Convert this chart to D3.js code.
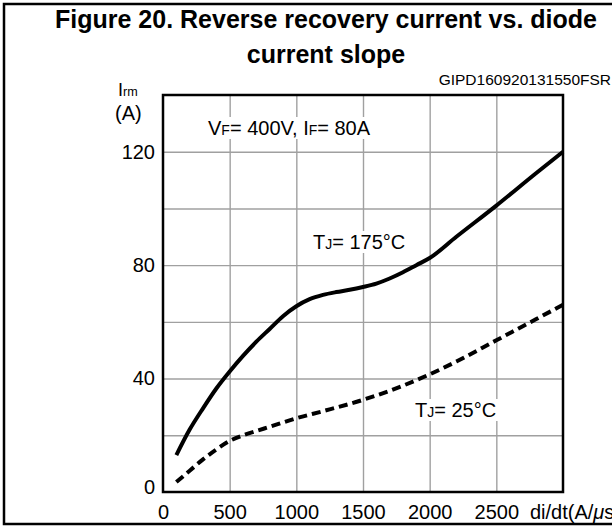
<!DOCTYPE html>
<html>
<head>
<meta charset="utf-8">
<script src="https://cdn.jsdelivr.net/npm/d3@7"></script>
<style>
  body { margin: 0; background: #fff; }
  svg text { font-family: "Liberation Sans", Arial, Helvetica, sans-serif; fill: #000; }
</style>
</head>
<body>
<div id="chart"></div>
<script>
/* data */
var xTicks = [0, 500, 1000, 1500, 2000, 2500],
    yTicks = [0, 40, 80, 120],
    xGrid = [500, 1000, 1500, 2000, 2500],
    yGrid = [20, 40, 60, 80, 100, 120];

var didtHot = [100, 200, 300, 400, 500, 600, 700, 800, 900, 1000, 1100, 1200, 1300, 1400, 1500, 1600, 1700, 1800, 1900, 2000, 2200, 2500, 2800, 3000],
    irmHot  = [13, 22, 29.5, 36.5, 42.5, 48, 53, 57.5, 62, 65.5, 68, 69.5, 70.5, 71.3, 72.3, 73.5, 75.3, 77.5, 80, 82.5, 90, 101, 112.5, 120];

var didtCold = [100, 200, 300, 400, 500, 600, 700, 800, 1000, 1200, 1500, 1800, 2000, 2200, 2500, 2800, 3000],
    irmCold  = [3.5, 7.5, 11.5, 15, 18, 20, 21.5, 23, 26, 28.5, 32.5, 37.5, 41.5, 46, 53.5, 61, 66];

var width = 612,
    height = 529,
    margin = {left: 163, top: 95, right: 49, bottom: 37},
    w = width - margin.left - margin.right,
    h = height - margin.top - margin.bottom;

var svg = d3.select("#chart").append("svg")
    .attr("width", width)
    .attr("height", height);

/* outer frame of the figure */
svg.append("rect")
    .attr("x", 4).attr("y", 4)
    .attr("width", 700).attr("height", 520)
    .attr("fill", "none")
    .attr("stroke", "#000")
    .attr("stroke-width", 2.5);

/* title */
var title = svg.append("g").attr("font-weight", "bold").attr("font-size", 25).attr("text-anchor", "middle");
title.append("text").attr("x", 326).attr("y", 28).text("Figure 20. Reverse recovery current vs. diode");
title.append("text").attr("x", 326).attr("y", 63).text("current slope");

svg.append("text")
    .attr("x", 611).attr("y", 85)
    .attr("font-size", 15.5)
    .attr("text-anchor", "end")
    .text("GIPD160920131550FSR");

var g = svg.append("g")
    .attr("transform", "translate(" + margin.left + "," + margin.top + ")");

var x = d3.scaleLinear().domain([0, 3000]).range([0, w]),
    y = d3.scaleLinear().domain([0, 140]).range([h, 0]);

/* grid */
g.append("g")
    .attr("class", "grid")
    .attr("transform", "translate(0," + h + ")")
    .call(d3.axisBottom(x).tickValues(xGrid).tickSize(-h).tickFormat(""));

g.append("g")
    .attr("class", "grid")
    .call(d3.axisLeft(y).tickValues(yGrid).tickSize(-w).tickFormat(""));

g.selectAll(".grid .domain").remove();
g.selectAll(".grid line").attr("stroke", "#a0a0a0").attr("stroke-width", 1.4);

/* tick labels */
var xAxis = g.append("g")
    .attr("transform", "translate(0," + h + ")")
    .call(d3.axisBottom(x).tickValues(xTicks).tickSize(0).tickPadding(13).tickFormat(d3.format("d")));

var yAxis = g.append("g")
    .call(d3.axisLeft(y).tickValues(yTicks).tickSize(0).tickPadding(8));

xAxis.select(".domain").remove();
yAxis.select(".domain").remove();
g.selectAll(".tick text")
    .attr("font-family", "'Liberation Sans', Arial, sans-serif")
    .attr("font-size", 20)
    .attr("fill", "#000");
yAxis.selectAll(".tick text").filter(function(d) { return d === 0; }).attr("dy", "0.05em");

/* annotations with white boxes behind them */
var drawLabel = function(parent, px, py, parts, size) {
    var lab = parent.append("g");
    var t = lab.append("text")
        .attr("x", px)
        .attr("y", py)
        .attr("font-size", size);
    parts.forEach(function(p) {
        t.append("tspan")
            .attr("font-size", p[1] ? size * 0.7 : size)
            .attr("font-style", p[2] ? "italic" : null)
            .text(p[0]);
    });
    return lab;
};

var boxed = function(lab) {
    var b = lab.node().getBBox();
    lab.insert("rect", "text")
        .attr("x", b.x - 3).attr("y", b.y)
        .attr("width", b.width + 6).attr("height", b.height)
        .attr("fill", "#fff");
};

boxed(drawLabel(svg, 208, 135, [["V"], ["F", true], ["= 400V, I"], ["F", true], ["= 80A"]], 20));
boxed(drawLabel(svg, 313, 249, [["T"], ["J", true], ["= 175°C"]], 20));
boxed(drawLabel(svg, 415, 417, [["T"], ["J", true], ["= 25°C"]], 20));

/* curves */
var line = d3.line()
    .x(function(d) { return x(d[0]); })
    .y(function(d) { return y(d[1]); })
    .curve(d3.curveMonotoneX);

g.append("path")
    .datum(d3.zip(didtHot, irmHot))
    .attr("d", line)
    .attr("fill", "none")
    .attr("stroke", "#000")
    .attr("stroke-width", 4);

g.append("path")
    .datum(d3.zip(didtCold, irmCold))
    .attr("d", line)
    .attr("fill", "none")
    .attr("stroke", "#000")
    .attr("stroke-width", 4)
    .attr("stroke-dasharray", "9,5");

/* plot frame */
g.append("rect")
    .attr("width", w).attr("height", h)
    .attr("fill", "none")
    .attr("stroke", "#000")
    .attr("stroke-width", 2.5);

/* axis titles */
drawLabel(svg, 118, 96, [["I"], ["rm", true]], 18);
drawLabel(svg, 115, 120, [["(A)"]], 20);
drawLabel(svg, 530, 519, [["di/dt(A/"], ["μ", false, true], ["s)"]], 20);
</script>
</body>
</html>
